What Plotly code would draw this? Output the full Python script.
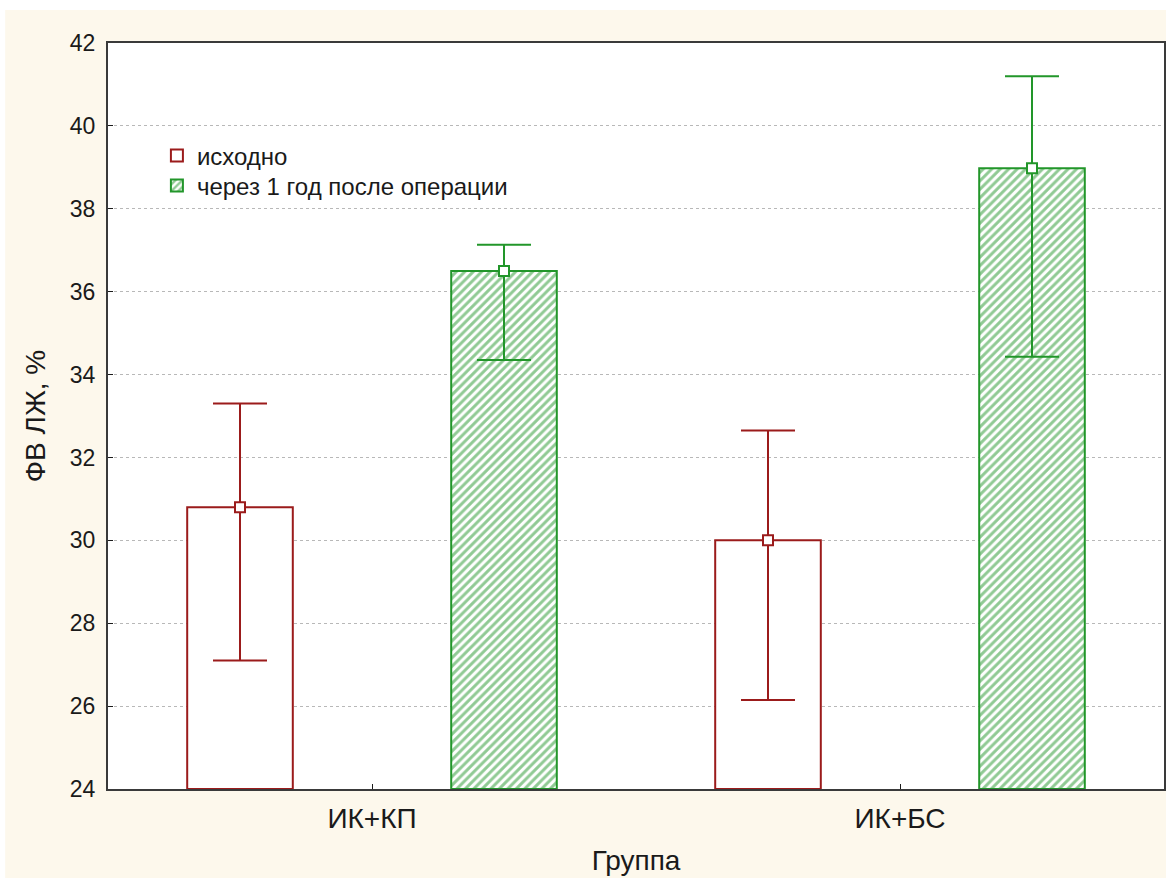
import plotly.graph_objects as go

# Group labels and ejection-fraction statistics (mean with lower/upper CI bounds)
groups = ["ИК+КП", "ИК+БС"]
series_names = ["исходно", "через 1 год после операции"]

baseline_mean = [30.8, 30.0]
baseline_low = [27.1, 26.15]
baseline_high = [33.3, 32.65]

followup_mean = [36.5, 38.98]
followup_low = [34.35, 34.43]
followup_high = [37.13, 41.2]

y_ticks = [24, 26, 28, 30, 32, 34, 36, 38, 40, 42]

RED = "#9b1b1b"
GREEN = "#22962a"
CREAM = "#fdf8ec"
TEXT = "#1a1a1a"
FONT = "Liberation Sans, Arial, sans-serif"

W, H = 1168, 883
ML, MR, MT, MB = 108, 2, 43, 94
PW, PH = W - ML - MR, H - MT - MB

idx = list(range(len(groups)))
offsets = [-0.25, 0.25]
bar_w = 0.2

series = [
    (series_names[0], baseline_mean, baseline_low, baseline_high, RED, "", "legend", 156),
    (series_names[1], followup_mean, followup_low, followup_high, GREEN, "/", "legend2", 186),
]

fig = go.Figure()

for (name, mean, low, high, color, shape, leg, _), off in zip(series, offsets):
    xs = [i + off for i in idx]
    fig.add_trace(go.Bar(
        x=xs, y=[m - y_ticks[0] for m in mean], base=y_ticks[0],
        width=bar_w, name=name, legend=leg,
        marker=dict(
            color="white",
            line=dict(color=color, width=2),
            pattern=dict(shape=shape, fgcolor=color, bgcolor="white",
                         size=6, solidity=0.5, fillmode="overlay"),
        ),
        hoverinfo="skip",
    ))
    fig.add_trace(go.Scatter(
        x=xs, y=mean, mode="markers", showlegend=False,
        marker=dict(symbol="square", size=10, color="white",
                    line=dict(color=color, width=2)),
        error_y=dict(type="data", symmetric=False,
                     array=[h - m for h, m in zip(high, mean)],
                     arrayminus=[m - l for m, l in zip(mean, low)],
                     color=color, thickness=2, width=27),
        hoverinfo="skip",
    ))

# cream frame around the plotting area, white plot area on top of it
fx0 = (5 - ML) / PW
fx1 = (W - ML) / PW
fy1 = (H - MB - 10) / PH
fy0 = (H - MB - 878) / PH
fig.add_shape(type="rect", xref="paper", yref="paper", x0=fx0, x1=fx1, y0=fy0, y1=fy1,
              fillcolor=CREAM, line=dict(width=0), layer="below")
fig.add_shape(type="rect", xref="paper", yref="paper", x0=0, x1=1, y0=0, y1=1,
              fillcolor="white", line=dict(width=0), layer="below")

axis_common = dict(
    showline=True, linecolor="#3a3a3a", linewidth=2, mirror=True,
    ticks="inside", ticklen=5, tickcolor="#1a1a1a", tickwidth=1,
    zeroline=False,
)


def legend_box(y_px):
    return dict(
        x=(157 - ML) / PW, y=(H - MB - y_px) / PH, xanchor="left", yanchor="middle",
        bgcolor="rgba(0,0,0,0)", borderwidth=0,
        font=dict(family=FONT, size=24, color=TEXT),
        itemwidth=30,
    )


fig.update_layout(
    width=W, height=H,
    margin=dict(l=ML, r=MR, t=MT, b=MB),
    paper_bgcolor="white", plot_bgcolor="white",
    barmode="overlay",
    font=dict(family=FONT, color=TEXT),
    showlegend=True,
    legend=legend_box(series[0][7]),
    legend2=legend_box(series[1][7]),
    xaxis=dict(
        range=[-0.5, 1.5], tickmode="array", tickvals=idx, ticktext=groups,
        showgrid=False, ticklabelstandoff=3,
        tickfont=dict(family=FONT, size=28, color=TEXT),
        title=dict(text="Группа", font=dict(family=FONT, size=28, color=TEXT), standoff=18),
        **axis_common,
    ),
    yaxis=dict(
        range=[y_ticks[0], y_ticks[-1]], tickmode="array", tickvals=y_ticks,
        showgrid=True, gridcolor="#b8b8b8", griddash="dot", gridwidth=1,
        ticklabelstandoff=6,
        tickfont=dict(family=FONT, size=23, color=TEXT),
        title=dict(text="ФВ ЛЖ, %", font=dict(family=FONT, size=28, color=TEXT), standoff=16),
        **axis_common,
    ),
)

fig.write_html("out.html")
